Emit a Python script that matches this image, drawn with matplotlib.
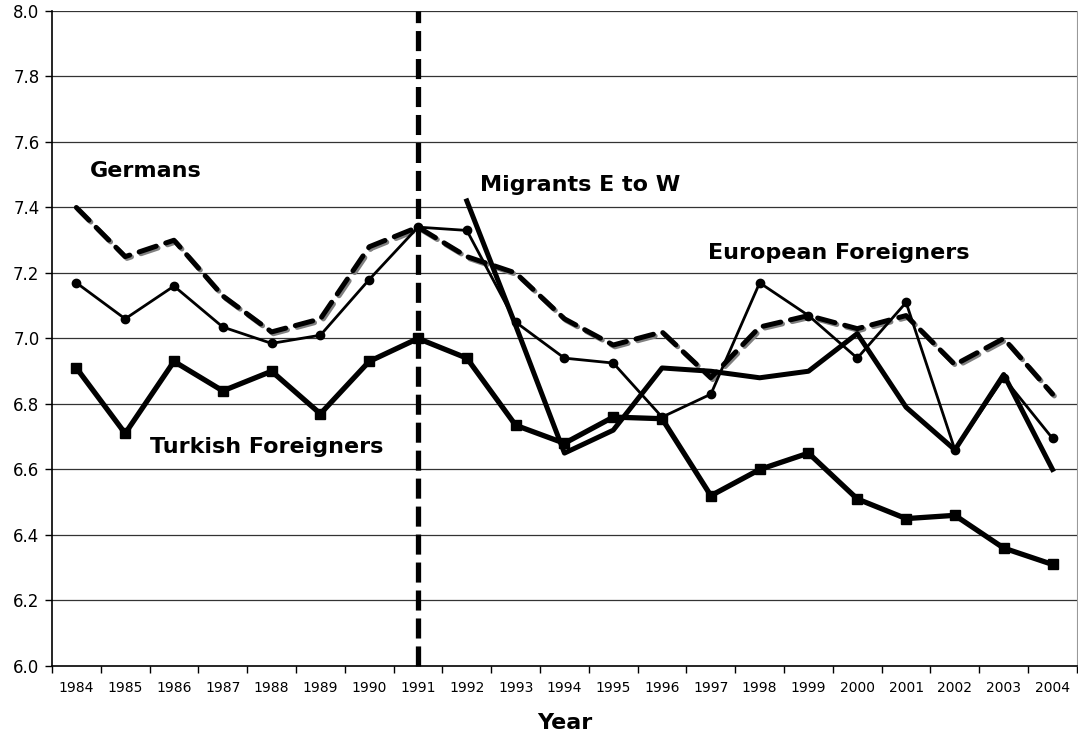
import matplotlib
matplotlib.use("Agg")
import matplotlib.pyplot as plt
import matplotlib.patheffects as pe
import numpy as np

# Data
years = [str(y) for y in range(1984, 2005)]
germans = [7.40, 7.25, 7.30, 7.13, 7.02, 7.06, 7.28, 7.34, 7.25, 7.20, 7.06,
           6.98, 7.02, 6.88, 7.035, 7.07, 7.03, 7.07, 6.92, 7.00, 6.83]
european = [7.17, 7.06, 7.16, 7.035, 6.985, 7.01, 7.18, 7.34, 7.33, 7.05, 6.94,
            6.925, 6.76, 6.83, 7.17, 7.07, 6.94, 7.11, 6.66, 6.88, 6.695]
turkish = [6.91, 6.71, 6.93, 6.84, 6.90, 6.77, 6.93, 7.00, 6.94, 6.735, 6.68,
           6.76, 6.755, 6.52, 6.60, 6.65, 6.51, 6.45, 6.46, 6.36, 6.31]
# Migrants series starts in 1992
migrants = [np.nan] * 8 + [7.42, 7.04, 6.65, 6.72, 6.91, 6.90, 6.88, 6.90,
                           7.015, 6.79, 6.66, 6.89, 6.60]
break_year = "1991"

x = np.arange(len(years))

fig = plt.figure(figsize=(10.78, 7.38), dpi=100)
ax = fig.add_axes([0.0482, 0.0976, 0.9508, 0.8875])

# grid lines
for yv in np.arange(6.2, 8.01, 0.2):
    ax.axhline(yv, color='#333333', lw=0.9, zorder=0)

# Germans: dashed with grey shadow
ax.plot(x, germans, color='black', lw=3.6, dashes=(3.6, 2.0), solid_capstyle='round',
        dash_capstyle='round', zorder=3,
        path_effects=[pe.SimpleLineShadow(offset=(1.3, -1.3), shadow_color='#808080', alpha=1.0),
                      pe.Normal()])

ax.plot(x, european, color='black', lw=2.0, marker='o', markersize=6, zorder=4)
ax.plot(x, migrants, color='black', lw=3.6, zorder=4)
ax.plot(x, turkish, color='black', lw=3.8, marker='s', markersize=6.5, zorder=4)

# reunification line
xb = years.index(break_year)
ax.plot([xb, xb], [6.0, 8.0], color='black', lw=3.8, dashes=(3.8, 1.5), zorder=5,
        clip_on=False)

# labels on the lines
lbl = dict(fontsize=16, fontweight='bold', va='center')
ax.text(x[0] + 0.28, 7.51, 'Germans', **lbl)
ax.text(x[8] + 0.27, 7.47, 'Migrants E to W', **lbl)
ax.text(x[12] + 0.94, 7.26, 'European Foreigners', **lbl)
ax.text(x[1] + 0.51, 6.67, 'Turkish Foreigners', **lbl)

ax.set_xlim(-0.5, len(years) - 0.5)
ax.set_ylim(6.0, 8.0)
ax.set_yticks(np.arange(6.0, 8.01, 0.2))
ax.set_yticklabels([f'{v:.1f}' for v in np.arange(6.0, 8.01, 0.2)], fontsize=12)
ax.set_xticks(x)
ax.set_xticklabels(years, fontsize=10)
ax.set_xticks(np.arange(-0.5, len(years)), minor=True)
ax.tick_params(axis='x', which='major', length=0, pad=11)
ax.tick_params(axis='x', which='minor', length=5, width=1)
ax.tick_params(axis='y', length=5, width=1, pad=4)

ax.set_xlabel('Year', fontsize=16, fontweight='bold', labelpad=13)

ax.spines['top'].set_visible(False)
ax.spines['right'].set_color('#999999')
ax.spines['left'].set_linewidth(1.2)
ax.spines['bottom'].set_linewidth(1.2)

fig.savefig('out.png', dpi=100)
